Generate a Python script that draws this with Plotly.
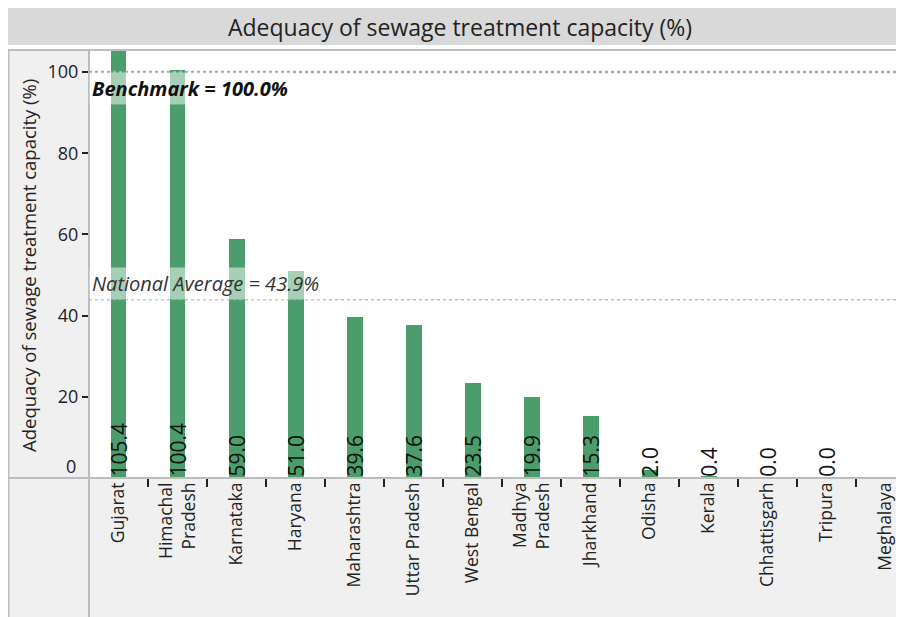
import plotly.graph_objects as go

# ── data ──────────────────────────────────────────────────────────────
states = ["Gujarat", "Himachal Pradesh", "Karnataka", "Haryana", "Maharashtra",
          "Uttar Pradesh", "West Bengal", "Madhya Pradesh", "Jharkhand", "Odisha",
          "Kerala", "Chhattisgarh", "Tripura", "Meghalaya"]
tick_labels = ["Gujarat", "Himachal<br>Pradesh", "Karnataka", "Haryana", "Maharashtra",
               "Uttar Pradesh", "West Bengal", "Madhya<br>Pradesh", "Jharkhand", "Odisha",
               "Kerala", "Chhattisgarh", "Tripura", "Meghalaya"]
adequacy = [105.4, 100.4, 59.0, 51.0, 39.6, 37.6, 23.5, 19.9, 15.3, 2.0, 0.4, 0.0, 0.0, None]
y_ticks = [20, 40, 60, 80, 100]
benchmark = 100.0
national_avg = 43.9

TITLE = "Adequacy of sewage treatment capacity (%)"
FONT = "Open Sans"
BAR = "#4b9e6c"
EDGE = "#bdbdbd"
PANEL = "#f0f0f0"

# ── pixel helpers ─────────────────────────────────────────────────────
# page body has an 8px margin, so the figure is 896 x 609 and every
# screen position below is given in figure pixels (screen - 8)
W, H = 896, 609
L, R, T, B = 81, 896, 43, 470


def px(x):
    return (x - L) / (R - L)


def py(y):
    return (B - y) / (B - T)


fig = go.Figure()

fig.add_trace(go.Bar(
    x=tick_labels,
    y=adequacy,
    width=0.27,
    marker=dict(color=BAR, line=dict(width=0)),
    showlegend=False,
    hoverinfo="skip",
))

shapes = [
    # title band
    dict(type="rect", xref="paper", yref="paper", x0=px(-2), x1=px(900), y0=py(37), y1=py(-3),
         fillcolor="#d9d9d9", line_width=0, layer="below"),
    # y-axis panel
    dict(type="rect", xref="paper", yref="paper", x0=px(0), x1=px(81), y0=py(612), y1=py(42),
         fillcolor=PANEL, line_width=0, layer="below"),
    # x-axis panel
    dict(type="rect", xref="paper", yref="paper", x0=px(81), x1=px(900), y0=py(612), y1=py(470),
         fillcolor=PANEL, line_width=0, layer="below"),
    # frame lines
    dict(type="line", xref="paper", yref="paper", x0=px(0), x1=px(900), y0=py(42), y1=py(42),
         line=dict(color=EDGE, width=2)),
    dict(type="line", xref="paper", yref="paper", x0=px(0.5), x1=px(0.5), y0=py(41), y1=py(612),
         line=dict(color=EDGE, width=2)),
    dict(type="line", xref="paper", yref="paper", x0=px(81), x1=px(81), y0=py(41), y1=py(612),
         line=dict(color=EDGE, width=2)),
    dict(type="line", xref="paper", yref="paper", x0=px(0), x1=px(900), y0=py(470), y1=py(470),
         line=dict(color=EDGE, width=2)),
    # reference lines
    dict(type="line", xref="paper", yref="y", x0=0, x1=1, y0=benchmark, y1=benchmark,
         line=dict(color="#aaaaaa", width=2.5, dash="dot")),
    dict(type="line", xref="paper", yref="y", x0=0, x1=1, y0=national_avg, y1=national_avg,
         line=dict(color="#999999", width=1, dash="dot")),
]

annotations = [
    dict(x=px(452), y=py(19), xref="paper", yref="paper", text=TITLE, showarrow=False,
         font=dict(size=23, color="#222222", family=FONT), xanchor="center", yanchor="middle"),
    dict(x=px(20), y=py(258), xref="paper", yref="paper", text=TITLE, showarrow=False,
         textangle=-90, font=dict(size=18.5, color="#222222", family=FONT),
         xanchor="center", yanchor="middle"),
    dict(x=px(70), y=py(458), xref="paper", yref="paper", text="0", showarrow=False,
         font=dict(size=18, color="#222222", family=FONT), xanchor="right", yanchor="middle"),
    dict(x=0, y=benchmark, xref="paper", yref="y", text="<b><i>Benchmark = 100.0%</i></b>",
         showarrow=False, xanchor="left", yanchor="top", borderpad=2,
         bgcolor="rgba(255,255,255,0.5)", font=dict(size=20, color="#111111", family=FONT)),
    dict(x=0, y=national_avg, xref="paper", yref="y", text="<i>National Average = 43.9%</i>",
         showarrow=False, xanchor="left", yanchor="bottom", borderpad=2,
         bgcolor="rgba(255,255,255,0.5)", font=dict(size=20, color="#333333", family=FONT)),
]

for lab, v in zip(tick_labels, adequacy):
    if v is None:
        continue
    annotations.append(dict(
        x=lab, y=0, xref="x", yref="y", text=f"{v:.1f}", showarrow=False,
        textangle=-90, xanchor="center", yanchor="bottom", yshift=-1,
        font=dict(size=21, color="#111111", family=FONT),
    ))

fig.update_layout(
    width=W, height=H,
    margin=dict(l=L, r=W - R, t=T, b=H - B),
    paper_bgcolor="white",
    plot_bgcolor="white",
    font=dict(family=FONT, color="#222222"),
    shapes=shapes,
    annotations=annotations,
    bargap=0,
)

fig.update_xaxes(
    type="category",
    range=[-0.5, 13.31],
    tickson="boundaries",
    ticks="outside", ticklen=8, tickwidth=1.5, tickcolor="#222222",
    tickangle=-90,
    tickfont=dict(size=17.5, color="#222222", family=FONT),
    showgrid=False, showline=False, zeroline=False,
)
fig.update_yaxes(
    range=[0, 105.2],
    tickmode="array", tickvals=y_ticks,
    ticks="outside", ticklen=6, tickwidth=1.5, tickcolor="#222222",
    tickfont=dict(size=18, color="#222222", family=FONT),
    showgrid=False, showline=False, zeroline=False,
)

fig.write_html("out.html")
